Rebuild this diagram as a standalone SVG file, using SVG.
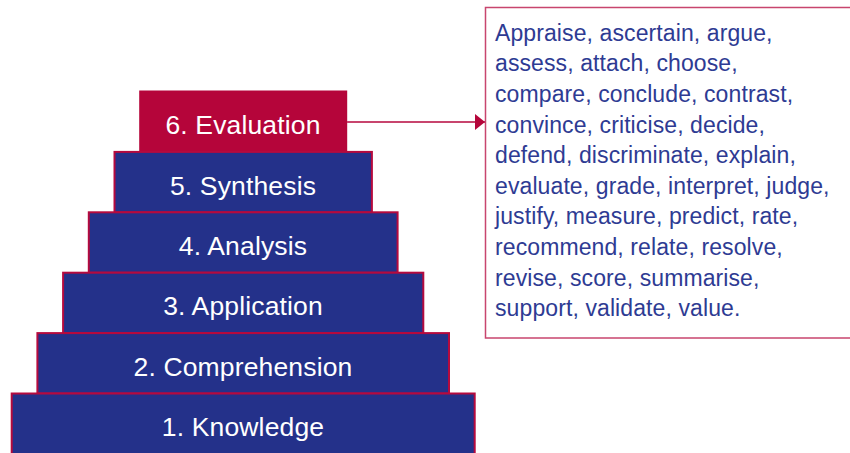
<svg xmlns="http://www.w3.org/2000/svg" width="850" height="453" viewBox="0 0 850 453">
<style>
.lvl{fill:#24318a;stroke:#b50a3e;stroke-width:2}
.top{fill:#b5053a}
.lbl{font-family:"Liberation Sans",Arial,sans-serif;font-size:26.5px;fill:#ffffff;text-anchor:middle;letter-spacing:0.15px}
.box{fill:#ffffff;stroke:#c8456e;stroke-width:1.5}
.verbs{font-family:"Liberation Sans",Arial,sans-serif;font-size:23px;fill:#2e3b93;letter-spacing:0.1px}
.conn{stroke:#c8456e;stroke-width:2;fill:none}
</style>
<defs>
<marker id="ah" markerUnits="userSpaceOnUse" markerWidth="12" markerHeight="18" refX="10" refY="9" orient="auto">
<polygon points="0,1 10,9 0,17" fill="#b5053a"/>
</marker>
</defs>
<rect width="850" height="453" fill="#ffffff"/>
<g id="evaluation">
<rect class="top" x="139.2" y="90.5" width="208" height="61.5"/>
<text class="lbl" x="243" y="134">6. Evaluation</text>
</g>
<g id="synthesis">
<rect class="lvl" x="114.5" y="151.9" width="257.4" height="60.4"/>
<text class="lbl" x="243" y="194.5">5. Synthesis</text>
</g>
<g id="analysis">
<rect class="lvl" x="88.8" y="212.3" width="308.8" height="60.4"/>
<text class="lbl" x="243" y="255">4. Analysis</text>
</g>
<g id="application">
<rect class="lvl" x="63.1" y="272.7" width="360.2" height="60.4"/>
<text class="lbl" x="243" y="315">3. Application</text>
</g>
<g id="comprehension">
<rect class="lvl" x="37.4" y="333.1" width="411.6" height="60.4"/>
<text class="lbl" x="243" y="375.5">2. Comprehension</text>
</g>
<g id="knowledge">
<rect class="lvl" x="11.7" y="393.5" width="463" height="64"/>
<text class="lbl" x="243" y="435.5">1. Knowledge</text>
</g>
<g id="verbs-box">
<rect class="box" x="485.5" y="7.5" width="380" height="330.5"/>
<text class="verbs" x="495">
<tspan x="495" y="40.7">Appraise, ascertain, argue,</tspan>
<tspan x="495" y="71.3">assess, attach, choose,</tspan>
<tspan x="495" y="101.9">compare, conclude, contrast,</tspan>
<tspan x="495" y="132.5">convince, criticise, decide,</tspan>
<tspan x="495" y="163.1">defend, discriminate, explain,</tspan>
<tspan x="495" y="193.7">evaluate, grade, interpret, judge,</tspan>
<tspan x="495" y="224.3">justify, measure, predict, rate,</tspan>
<tspan x="495" y="254.9">recommend, relate, resolve,</tspan>
<tspan x="495" y="285.5">revise, score, summarise,</tspan>
<tspan x="495" y="316.1">support, validate, value.</tspan>
</text>
</g>
<g id="connectors">
<line class="conn" x1="347" y1="122" x2="485" y2="122" marker-end="url(#ah)"/>
</g>
</svg>
